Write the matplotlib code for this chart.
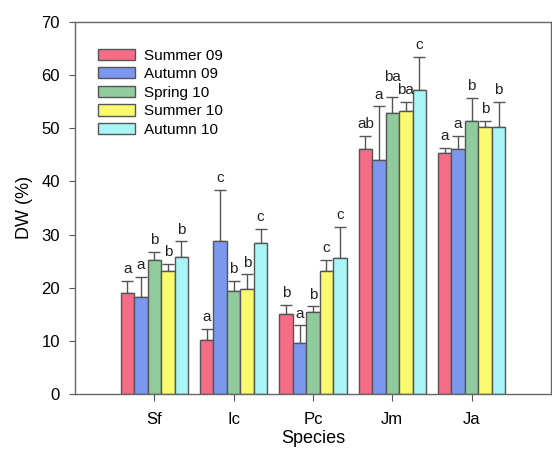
import matplotlib.pyplot as plt
import numpy as np

plt.rcParams['font.family'] = ['Liberation Sans', 'DejaVu Sans']

species = ["Sf", "Ic", "Pc", "Jm", "Ja"]
seasons = ["Summer 09", "Autumn 09", "Spring 10", "Summer 10", "Autumn 10"]

# mean DW (%) per season, one list per season across species
summer09 = [19.0, 10.2, 15.1, 46.0, 45.3]
autumn09 = [18.3, 28.7, 9.6, 44.0, 46.1]
spring10 = [25.3, 19.4, 15.5, 52.9, 51.3]
summer10 = [23.1, 19.8, 23.2, 53.2, 50.2]
autumn10 = [25.8, 28.5, 25.5, 57.1, 50.3]

# upper error (SD)
err_summer09 = [2.3, 2.0, 1.7, 2.5, 1.0]
err_autumn09 = [3.8, 9.7, 3.3, 10.1, 2.4]
err_spring10 = [1.5, 1.9, 1.0, 2.9, 4.4]
err_summer10 = [1.4, 2.7, 2.1, 1.7, 1.2]
err_autumn10 = [2.9, 2.6, 5.9, 6.3, 4.7]

# significance letters
let_summer09 = ["a", "a", "b", "ab", "a"]
let_autumn09 = ["a", "c", "a", "a", "a"]
let_spring10 = ["b", "b", "b", "ba", "b"]
let_summer10 = ["b", "b", "c", "ba", "b"]
let_autumn10 = ["b", "c", "c", "c", "b"]

values = [summer09, autumn09, spring10, summer10, autumn10]
errors = [err_summer09, err_autumn09, err_spring10, err_summer10, err_autumn10]
letters = [let_summer09, let_autumn09, let_spring10, let_summer10, let_autumn10]
colors = ["#F56C86", "#7B97EE", "#8FCB9C", "#FAFA6E", "#A9F4F6"]

# the crowded "ba" over Jm / Spring 10 sits higher in the original
letter_lift = {(2, 3): 1.6}

fig = plt.figure(figsize=(5.52, 4.54), dpi=100)
ax = fig.add_axes([0.136, 0.132, 0.862, 0.820])

x = np.arange(1, len(species) + 1)
w = 0.17
edge = "#555555"

for i in range(len(seasons)):
    pos = x + (i - 2) * w
    ax.bar(pos, values[i], w, color=colors[i], edgecolor=edge, linewidth=1.0,
           label=seasons[i], zorder=2)
    ax.errorbar(pos, values[i], yerr=[np.zeros(len(species)), errors[i]],
                fmt="none", ecolor=edge, elinewidth=1.0, capsize=4, capthick=1.0,
                zorder=1)
    for j in range(len(species)):
        top = values[i][j] + errors[i][j] + letter_lift.get((i, j), 0)
        ax.text(pos[j], top + 0.9, letters[i][j], ha="center", va="bottom",
                fontsize=11, color="#222222")

ax.set_xlim(0, 6)
ax.set_ylim(0, 70)
ax.set_xticks(x)
ax.set_xticklabels(species, fontsize=12)
ax.set_yticks(np.arange(0, 71, 10))
ax.tick_params(axis="y", labelsize=12, direction="out", length=4, color=edge, pad=7)
ax.tick_params(axis="x", direction="out", length=5, color=edge, pad=8)
ax.set_xlabel("Species", fontsize=13, labelpad=2)
ax.set_ylabel("DW (%)", fontsize=13, labelpad=6)

for s in ax.spines.values():
    s.set_color("#666666")
    s.set_linewidth(1.0)

ax.legend(loc="upper left", bbox_to_anchor=(0.02, 0.965), frameon=False,
          fontsize=11, handlelength=2.4, handleheight=0.75, labelspacing=0.3,
          handletextpad=0.6)

fig.savefig("out.png", dpi=100)
